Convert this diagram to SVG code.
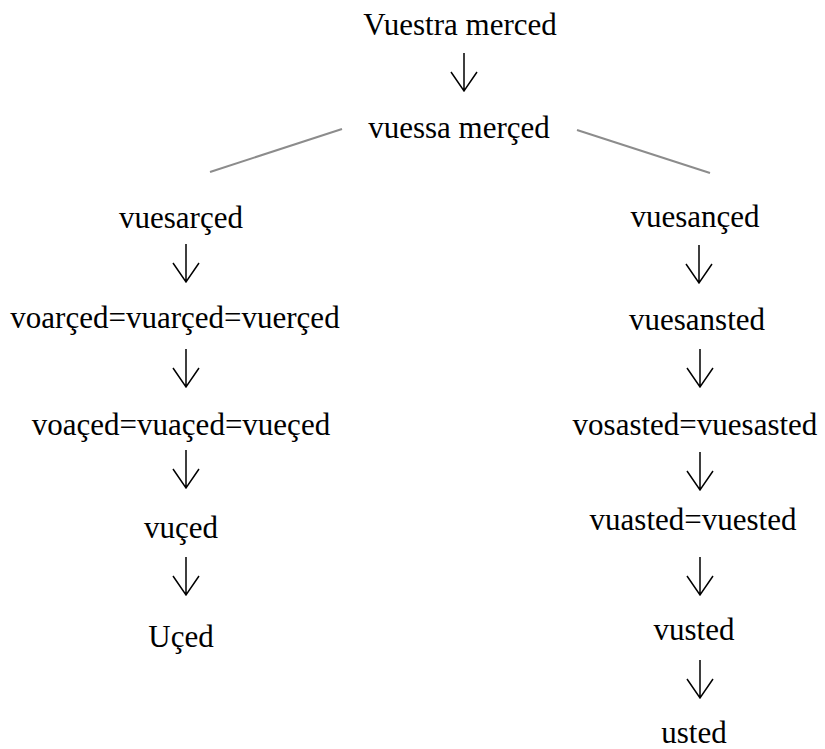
<svg xmlns="http://www.w3.org/2000/svg" width="825" height="749" viewBox="0 0 825 749">
<defs>
<style>
text{font-family:"Liberation Serif","Times New Roman",serif;font-size:31px;fill:#000;text-anchor:middle}
.arr{stroke:#000;stroke-width:1.5;fill:none}
.br{stroke:#8c8c8c;stroke-width:2;fill:none}
</style>
<path id="ar" class="arr" d="M0,-38 V0 M-13,-19 L0,0 L13,-19"/>
</defs>
<rect width="825" height="749" fill="#fff"/>
<g id="connectors">
<use href="#ar" x="464" y="91"/>
<line class="br" x1="210" y1="172" x2="342" y2="129"/>
<line class="br" x1="577" y1="130" x2="710" y2="173"/>
<use href="#ar" x="186" y="282"/>
<use href="#ar" x="186" y="387"/>
<use href="#ar" x="186" y="488"/>
<use href="#ar" x="186" y="595"/>
<use href="#ar" x="699" y="283"/>
<use href="#ar" x="700" y="387"/>
<use href="#ar" x="700" y="490"/>
<use href="#ar" x="700" y="595"/>
<use href="#ar" x="700" y="698"/>
</g>
<g id="n0"><text x="460" y="35">Vuestra merced</text></g>
<g id="n1"><text x="459" y="138">vuessa merçed</text></g>
<g id="l1"><text x="181" y="228">vuesarçed</text></g>
<g id="l2"><text x="175" y="328">voarçed=vuarçed=vuerçed</text></g>
<g id="l3"><text x="181" y="435">voaçed=vuaçed=vueçed</text></g>
<g id="l4"><text x="181" y="538">vuçed</text></g>
<g id="l5"><text x="181" y="647">Uçed</text></g>
<g id="r1"><text x="695" y="227">vuesançed</text></g>
<g id="r2"><text x="697" y="330">vuesansted</text></g>
<g id="r3"><text x="695" y="435">vosasted=vuesasted</text></g>
<g id="r4"><text x="693" y="530">vuasted=vuested</text></g>
<g id="r5"><text x="694" y="640">vusted</text></g>
<g id="r6"><text x="694" y="743">usted</text></g>
</svg>
